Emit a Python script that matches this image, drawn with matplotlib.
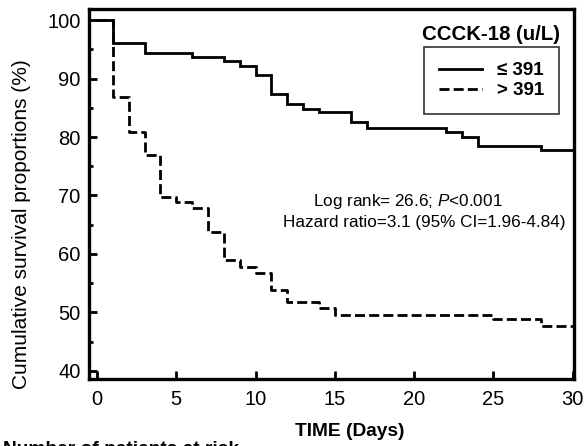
import matplotlib
matplotlib.use("Agg")
import matplotlib.pyplot as plt
from matplotlib.lines import Line2D

plt.rcParams['font.family'] = ['Liberation Sans', 'DejaVu Sans']
plt.rcParams['mathtext.fontset'] = 'custom'
plt.rcParams['mathtext.rm'] = 'Liberation Sans'
plt.rcParams['mathtext.it'] = 'Liberation Sans:italic'

# Kaplan-Meier steps
low_days = [0, 1, 3, 6, 8, 9, 10, 11, 12, 13, 14, 16, 17, 22, 23, 24, 28, 30]
low_surv = [100, 96.0, 94.3, 93.7, 93.0, 92.2, 90.6, 87.4, 85.7, 84.8, 84.2,
            82.6, 81.6, 80.9, 80.0, 78.4, 77.7, 77.7]
high_days = [0, 1, 2, 3, 4, 5, 6, 7, 8, 9, 10, 11, 12, 14, 15, 25, 28, 30]
high_surv = [100, 86.9, 80.9, 76.9, 69.8, 68.9, 67.8, 63.8, 58.9, 57.8, 56.8,
             53.8, 51.8, 50.7, 49.6, 48.8, 47.6, 47.6]
labels = ["\u2264 391", "> 391"]
x_ticks = [0, 5, 10, 15, 20, 25, 30]
y_ticks = [40, 50, 60, 70, 80, 90, 100]

W, H = 584, 446
fig = plt.figure(figsize=(W / 100, H / 100), dpi=100)
ax = fig.add_axes([89 / W, 1 - 379 / H, (574 - 89) / W, (379 - 9) / H])

lw = 2.0
dash = (0, (3.6, 1.5))
ax.step(low_days, low_surv, where='post', color='black', lw=lw,
        solid_joinstyle='miter')
ax.step(high_days, high_surv, where='post', color='black', lw=lw,
        linestyle=dash, dash_capstyle='butt')

ax.set_xlim(-0.5, 30.08)
ax.set_ylim(38.6, 101.9)
ax.set_xticks(x_ticks)
ax.set_yticks(y_ticks)
ax.set_yticks([45, 55, 65, 75, 85, 95], minor=True)
ax.tick_params(which='major', direction='in', length=5.5, width=2,
               labelsize=14.5, colors='black')
ax.tick_params(axis='y', which='major', pad=6)
ax.tick_params(axis='x', which='major', pad=8)
ax.tick_params(which='minor', direction='in', length=3, width=2)
for sp in ax.spines.values():
    sp.set_linewidth(2.4)

def px(x, y):
    return x / W, 1 - y / H

fig.text(*px(22, 224), "Cumulative survival proportions (%)",
         rotation=90, ha='center', va='center', fontsize=15)
fig.text(*px(350, 431), "TIME (Days)", ha='center', va='center',
         fontsize=13.8, fontweight='bold')
fig.text(*px(3, 441), "Number of patients at risk", ha='left',
         va='top', fontsize=13.8, fontweight='bold')

fig.text(*px(408, 201), "Log rank= 26.6; $P$<0.001",
         ha='center', va='center', fontsize=12.3)
fig.text(*px(424, 223), "Hazard ratio=3.1 (95% CI=1.96-4.84)",
         ha='center', va='center', fontsize=12.3)

fig.text(*px(491, 34), "CCCK-18 (u/L)", ha='center', va='center',
         fontsize=14.7, fontweight='bold')
handles = [Line2D([], [], color='black', lw=lw),
           Line2D([], [], color='black', lw=lw, linestyle=dash,
                  dash_capstyle='butt')]
leg = ax.legend(handles, labels, loc='upper right',
                bbox_to_anchor=px(559, 47),
                bbox_transform=fig.transFigure, frameon=True, fancybox=False,
                handlelength=2.3, handletextpad=0.8, borderpad=0.8,
                labelspacing=0.15, borderaxespad=0,
                prop={'weight': 'bold', 'size': 13.5})
leg.get_frame().set_edgecolor('black')
leg.get_frame().set_linewidth(1.2)

fig.savefig("out.png", dpi=100)
